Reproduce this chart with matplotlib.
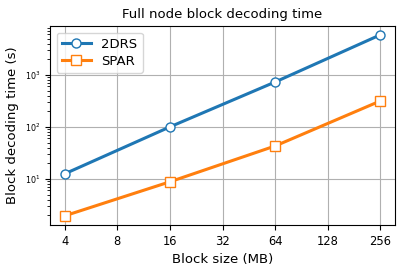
import matplotlib
matplotlib.use("Agg")
import matplotlib.pyplot as plt
from matplotlib.ticker import FixedLocator, FixedFormatter, NullLocator

block_sizes = [4, 16, 64, 256]
drs_times = [12.5, 100, 730, 5900]
spar_times = [1.95, 8.8, 43, 316]
xtick_vals = [4, 8, 16, 32, 64, 128, 256]
xtick_labels = ["4", "8", "16", "32", "64", "128", "256"]

fig = plt.figure(figsize=(4.07, 2.71), dpi=100)
ax = fig.add_axes([50/407, 1 - 225/271, 345/407, 199/271])

ax.plot(block_sizes, drs_times, '-o', color='#1f77b4', lw=2.2, ms=6.5,
        mfc='white', mec='#1f77b4', mew=1.0, label='2DRS')
ax.plot(block_sizes, spar_times, '-s', color='#ff7f0e', lw=2.2, ms=6.5,
        mfc='white', mec='#ff7f0e', mew=1.0, label='SPAR')

ax.set_xscale('log', base=2)
ax.set_yscale('log')
ax.xaxis.set_major_locator(FixedLocator(xtick_vals))
ax.xaxis.set_major_formatter(FixedFormatter(xtick_labels))
ax.xaxis.set_minor_locator(NullLocator())
ax.set_xlim(3.3, 310)
ax.set_ylim(1.3, 8700)

ax.grid(True, which='major', color='#b0b0b0', lw=0.8)
ax.tick_params(axis='y', which='major', labelsize=5.8, length=3.5, width=0.8)
ax.tick_params(axis='x', which='major', labelsize=8.3, length=3.5, width=0.8)
ax.tick_params(axis='y', which='minor', length=2, width=0.6)

ax.set_title('Full node block decoding time', fontsize=9.5)
ax.set_xlabel('Block size (MB)', fontsize=9.5)
ax.set_ylabel('Block decoding time (s)', fontsize=9.5)
ax.legend(loc='upper left', fontsize=9.5, handlelength=2.2, borderpad=0.4, labelspacing=0.3)

fig.savefig('out.png', dpi=100)
